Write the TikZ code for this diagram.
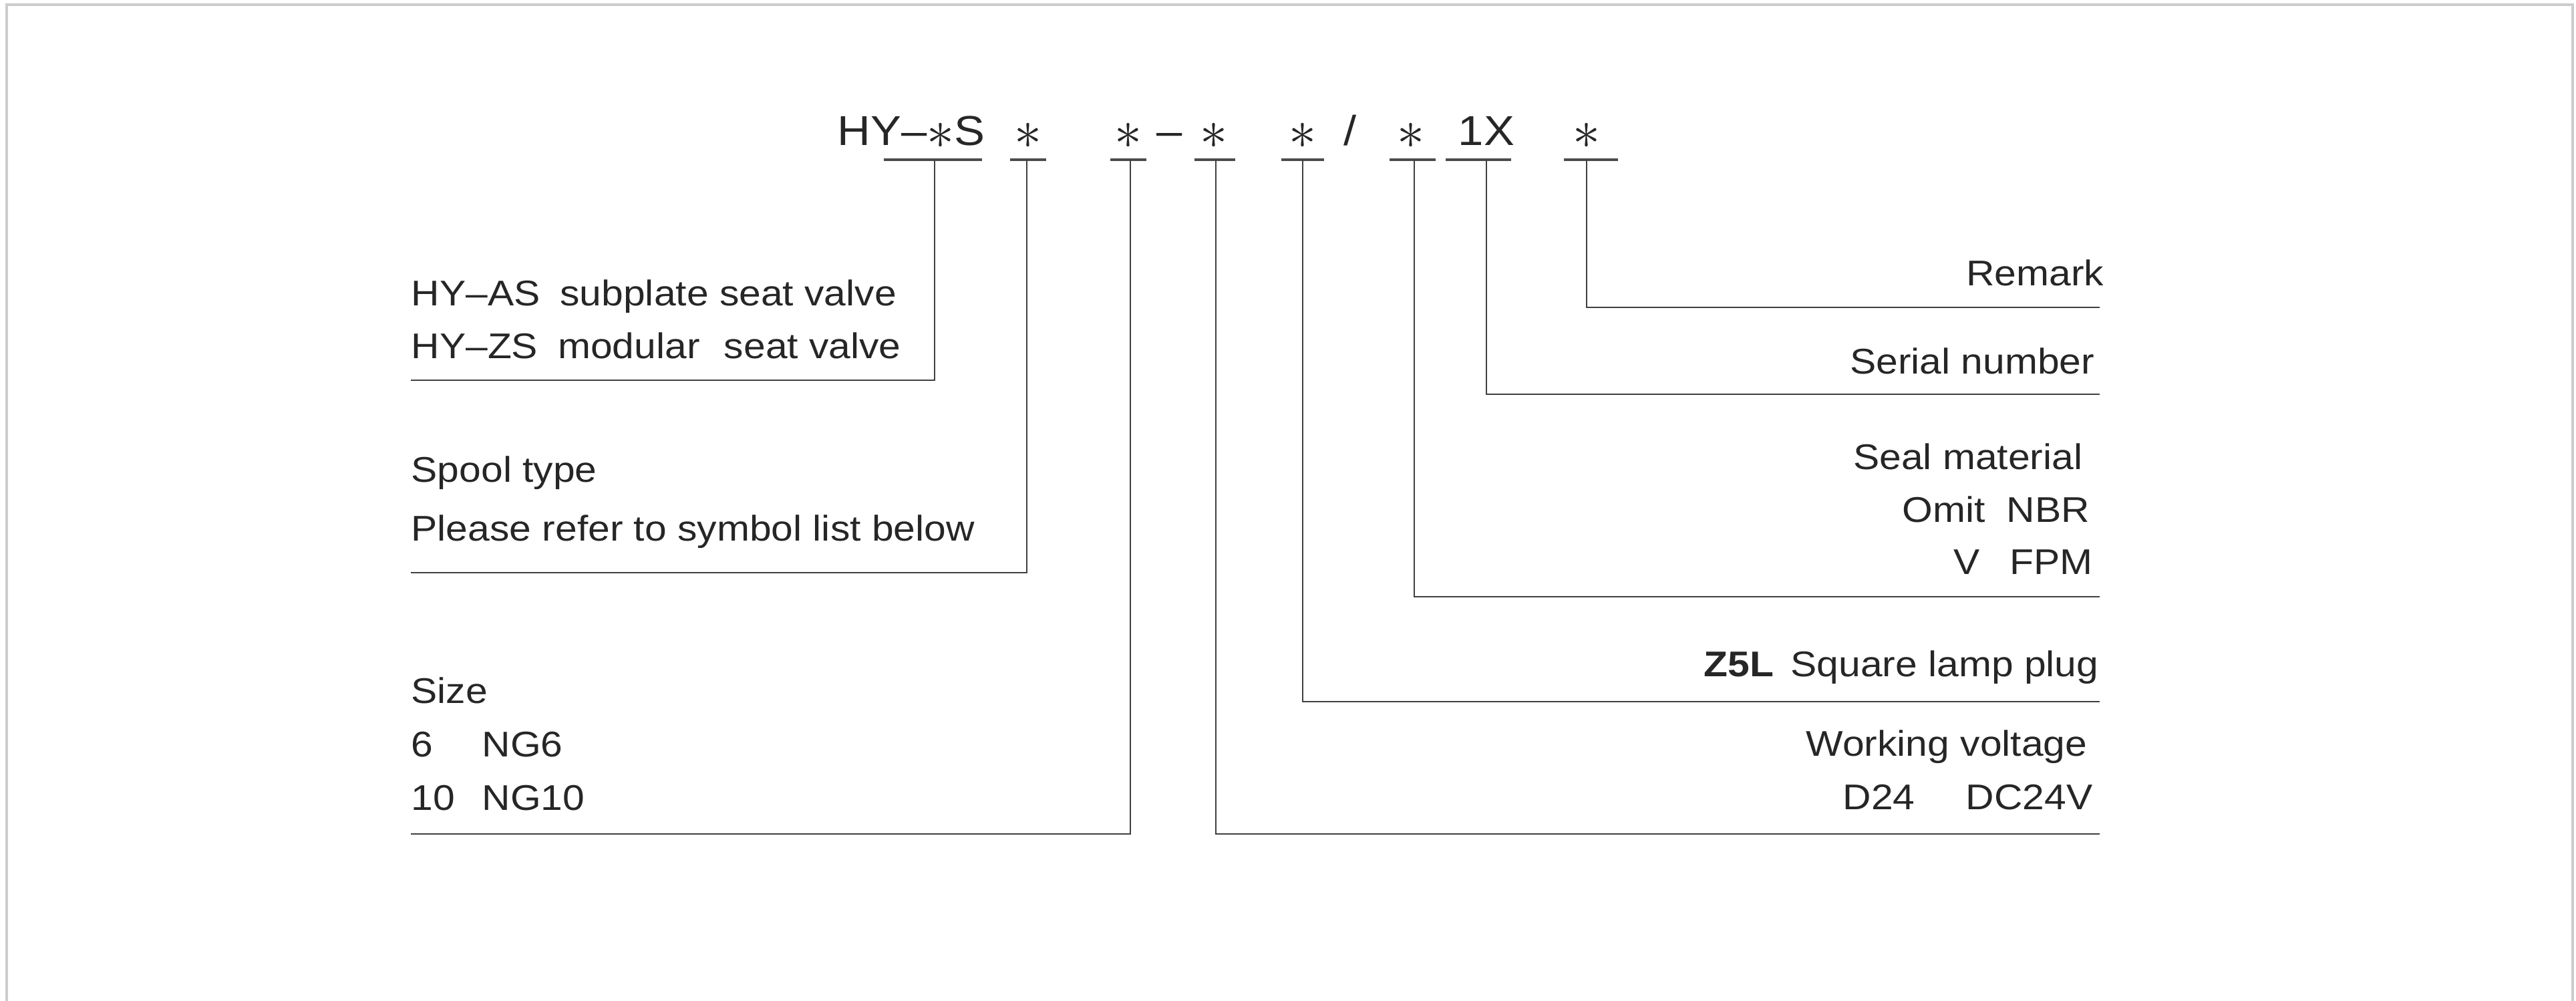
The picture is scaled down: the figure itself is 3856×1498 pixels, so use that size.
\documentclass[tikz,border=0pt]{standalone}
\usepackage{graphicx}
\usepackage{fontspec}
\setmainfont{Liberation Sans}[FakeStretch=1.1]
\newcommand{\codestar}{\raisebox{-1.2pt}{\scalebox{1.35}{$\ast$}}}
\begin{document}
\begin{tikzpicture}[x=0.01cm,y=-0.01cm,
    txt/.style={inner sep=0pt,font=\fontsize{15.2}{18}\selectfont,text=black!85},
    code/.style={inner sep=0pt,anchor=base,font=\fontsize{17.8}{20}\selectfont,text=black!85},
    uline/.style={line width=0.9pt,black!70},
    lead/.style={line width=0.6pt,black!75},
    frame/.style={line width=1.2pt,black!20}]
  \useasboundingbox (0,0) rectangle (3856,1498);
  \draw[frame] (10,1498) -- (10,7) -- (3851,7) -- (3851,1498);
  % model code
  \node[code,anchor=base east] (hy) at (1475,218) {HY–\codestar S};
  \node[code] (spool) at (1539,218) {\codestar};
  \node[code] (size)  at (1689,218) {\codestar};
  \node[code] (dash)  at (1751,218) {–};
  \node[code] (volt)  at (1817,218) {\codestar};
  \node[code] (plug)  at (1950,218) {\codestar};
  \node[code] (slash) at (2021,218) {/};
  \node[code] (seal)  at (2112,218) {\codestar};
  \node[code] (ser)   at (2225,218) {1X};
  \node[code] (rem)   at (2375,218) {\codestar};
  % underlines
  \draw[uline] (1323,239) -- (1470,239);
  \draw[uline] (1512,239) -- (1566,239);
  \draw[uline] (1662,239) -- (1716,239);
  \draw[uline] (1788,239) -- (1849,239);
  \draw[uline] (1918,239) -- (1982,239);
  \draw[uline] (2080,239) -- (2149,239);
  \draw[uline] (2164,239) -- (2262,239);
  \draw[uline] (2341,239) -- (2422,239);
  \coordinate (hyT)    at (1399,239);
  \coordinate (spoolT) at (1537,239);
  \coordinate (sizeT)  at (1692,239);
  \coordinate (voltT)  at (1820,239);
  \coordinate (plugT)  at (1950,239);
  \coordinate (sealT)  at (2117,239);
  \coordinate (serT)   at (2225,239);
  \coordinate (remT)   at (2375,239);
  % left side
  \node[txt,anchor=base west] (hyA) at (615,458) {HY–AS\hspace{0.3cm}subplate seat valve};
  \node[txt,anchor=base west] (hyZ) at (615,537) {HY–ZS\hspace{0.3cm}modular\hspace{0.2cm} seat valve};
  \coordinate (hyE) at (615,569);
  \node[txt,anchor=base west] (spoolA) at (615,722) {Spool type};
  \node[txt,anchor=base west] (spoolB) at (615,810) {Please refer to symbol list below};
  \coordinate (spoolE) at (615,857);
  \node[txt,anchor=base west] (sizeA) at (615,1053) {Size};
  \node[txt,anchor=base west] (sizeB) at (615,1133) {\makebox[1.06cm][l]{6}NG6};
  \node[txt,anchor=base west] (sizeC) at (615,1213) {\makebox[1.06cm][l]{10}NG10};
  \coordinate (sizeE) at (615,1248);
  % right side
  \node[txt,anchor=base east] (remA) at (3150,428) {Remark};
  \coordinate (remE) at (3143,460);
  \node[txt,anchor=base east] (serA) at (3136,560) {Serial number};
  \coordinate (serE) at (3143,590);
  \node[txt,anchor=base east] (sealA) at (3118,703) {Seal material};
  \node[txt,anchor=base west] (sealB) at (2847,782) {\makebox[1.56cm][l]{Omit}NBR};
  \node[txt,anchor=base west] (sealC) at (2924,860) {\makebox[0.84cm][l]{V}FPM};
  \coordinate (sealE) at (3143,893);
  \node[txt,anchor=base east] (plugA) at (3142,1013) {\textbf{Z5L}\hspace{0.25cm}Square lamp plug};
  \coordinate (plugE) at (3143,1050);
  \node[txt,anchor=base east] (voltA) at (3125,1132) {Working voltage};
  \node[txt,anchor=base west] (voltB) at (2758,1212) {\makebox[1.84cm][l]{D24}DC24V};
  \coordinate (voltE) at (3143,1248);
  % leaders
  \draw[lead] (hyT) |- (hyE);
  \draw[lead] (spoolT) |- (spoolE);
  \draw[lead] (sizeT) |- (sizeE);
  \draw[lead] (voltT) |- (voltE);
  \draw[lead] (plugT) |- (plugE);
  \draw[lead] (sealT) |- (sealE);
  \draw[lead] (serT) |- (serE);
  \draw[lead] (remT) |- (remE);
\end{tikzpicture}
\end{document}
